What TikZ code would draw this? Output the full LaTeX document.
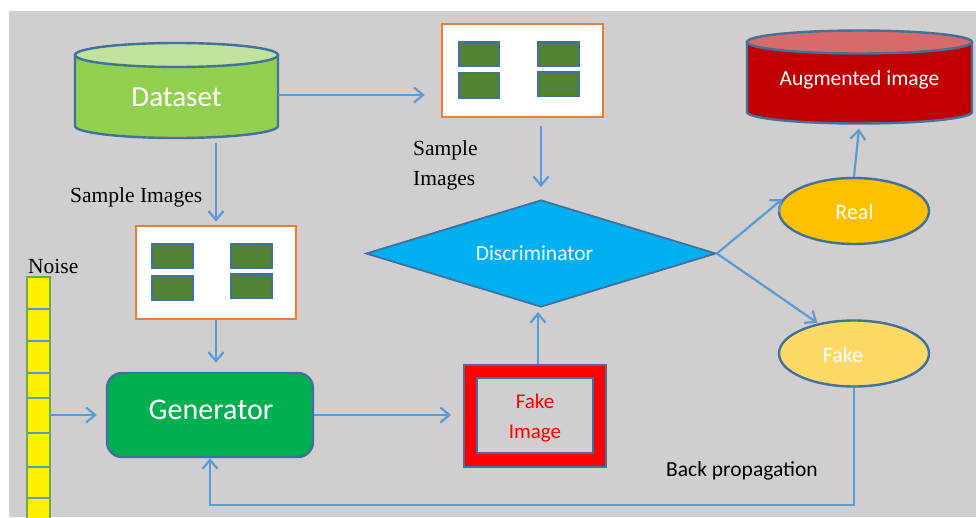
\documentclass[tikz,border=0pt]{standalone}
\usepackage{fontspec}
\setmainfont{Carlito}
\newfontfamily\timesf{Liberation Serif}
\usetikzlibrary{arrows.meta,shapes.geometric,calc}
\definecolor{bgc}{HTML}{D0CECE}
\definecolor{bordb}{HTML}{41719C}
\definecolor{arrb}{HTML}{5B9BD5}
\definecolor{dsg}{HTML}{92D050}
\definecolor{dstop}{HTML}{C1E29C}
\definecolor{orng}{HTML}{ED7D31}
\definecolor{imgg}{HTML}{548235}
\definecolor{discb}{HTML}{00B0F0}
\definecolor{geng}{HTML}{00B050}
\definecolor{realc}{HTML}{FFC000}
\definecolor{fakec}{HTML}{FFD966}
\definecolor{augr}{HTML}{C00000}
\definecolor{augtop}{HTML}{D76B6B}
\definecolor{noiseb}{HTML}{70AD47}
\tikzset{
  conn/.style={draw=arrb, line width=2.2pt, -{Straight Barb[length=9pt,width=15pt,line width=2.2pt]}},
  samplebox/.style={draw=orng, line width=2.6pt, fill=white, minimum width=161pt, minimum height=93pt, inner sep=0pt},
  thumb/.style={draw=bordb, line width=2.4pt, fill=imgg},
  serlabel/.style={font=\timesf\fontsize{21.5}{26}\selectfont, text=black, inner sep=0pt, align=left},
  calabel/.style={font=\fontsize{21.5}{26}\selectfont, text=black, inner sep=0pt},
  whitetxt/.style={text=white, inner sep=0pt},
}
\begin{document}
\begin{tikzpicture}[x=1pt,y=-1pt]
\useasboundingbox (0,0) rectangle (976,517);
\fill[white] (0,0) rectangle (976,517);
\fill[bgc] (9,11) rectangle (976,517);

% Dataset cylinder
\path[fill=dsg, draw=bordb, line width=2.4pt] (75,55) -- (75,126) arc[start angle=180,end angle=360,x radius=101.5pt,y radius=12pt] -- (278,55) -- cycle;
\path[fill=dstop, draw=bordb, line width=2.4pt] (176.5,55) ellipse[x radius=101.5pt, y radius=12pt];
\node[minimum width=203pt, minimum height=95pt, inner sep=0pt] (dataset) at (176.5,95) {};
\node[whitetxt, font=\fontsize{29}{33}\selectfont] (dstext) at (176.5,97) {Dataset};

% Augmented image cylinder
\path[fill=augr, draw=bordb, line width=2.4pt] (747,42) -- (747,112) arc[start angle=180,end angle=360,x radius=112.5pt,y radius=11.5pt] -- (972,42) -- cycle;
\path[fill=augtop, draw=bordb, line width=2.4pt] (859.5,42) ellipse[x radius=112.5pt, y radius=11.5pt];
\node[minimum width=225pt, minimum height=93pt, inner sep=0pt] (aug) at (859.5,77) {};
\node[whitetxt, font=\fontsize{21.5}{25}\selectfont] (augtext) at (859.5,80) {Augmented image};

% top sample box
\node[samplebox] (topbox) at (522.5,70.5) {};
\path[thumb] (459,42) rectangle (499,66);
\path[thumb] (459,73) rectangle (499,98);
\path[thumb] (538,42) rectangle (579,66);
\path[thumb] (538,72) rectangle (579,96);

% middle sample box
\node[samplebox, minimum width=160pt] (midbox) at (216,272.5) {};
\path[thumb] (152,244) rectangle (193,268);
\path[thumb] (152,276) rectangle (193,300);
\path[thumb] (231,244) rectangle (272,268);
\path[thumb] (231,274) rectangle (272,298);

% discriminator
\node[diamond, aspect=3.27, fill=discb, draw=bordb, line width=1.8pt, minimum width=350pt, minimum height=107pt, inner sep=0pt] (disc) at (541,253.5) {};
\node[whitetxt, font=\fontsize{21.5}{25}\selectfont] (disctext) at (534.5,253) {Discriminator};

% generator
\node[rectangle, rounded corners=15pt, fill=geng, draw=bordb, line width=2.4pt, minimum width=206pt, minimum height=84pt] (gen) at (210,415) {};
\node[whitetxt, font=\fontsize{30}{34}\selectfont] (gentext) at (211,410) {Generator};

% fake image
\node[fill=red, draw=bordb, line width=1.8pt, minimum width=142pt, minimum height=102pt, inner sep=0pt] (fakeimg) at (535,416) {};
\path[fill=bgc, draw=bordb, line width=1.8pt] (477,378) rectangle (593,453);
\node[text=red, font=\fontsize{21}{30}\selectfont, align=center, inner sep=0pt] (fitext) at (535,418) {Fake\\Image};

% real / fake ellipses
\node[ellipse, fill=realc, draw=bordb, line width=2.4pt, minimum width=150pt, minimum height=66pt, inner sep=0pt] (real) at (854,211) {};
\node[whitetxt, font=\fontsize{22}{26}\selectfont] (realtext) at (854.5,212) {Real};
\node[ellipse, fill=fakec, draw=bordb, line width=2.4pt, minimum width=150pt, minimum height=66pt, inner sep=0pt] (fake) at (854,353.5) {};
\node[whitetxt, font=\fontsize{22}{26}\selectfont] (faketext) at (843,355) {Fake};

% noise column
\path[fill=yellow, draw=noiseb, line width=1.8pt] (27,277) rectangle (50,520);
\foreach \yy in {309,341,373,398,433,467,498} {
  \draw[arrb, line width=1.5pt] (28,\yy) -- (49,\yy);
}
\node[minimum width=23pt, minimum height=240pt, inner sep=0pt] (noise) at (38.5,397) {};
\node[serlabel, anchor=south west] (noiselbl) at (28,274) {Noise};

% labels
\node[serlabel, anchor=west] (si1) at (70,197) {Sample Images};
\node[serlabel, anchor=base west, font=\timesf\fontsize{21.5}{30}\selectfont] (si2) at (413,185) {Sample\\Images};
\node[calabel, anchor=west] (bp) at (666,471) {Back propagation};

% connectors
\coordinate (fiup) at (538,364);
\coordinate (fiupend) at (538,307);
\draw[conn, shorten >=16pt] (dataset.east) -- (dataset.east -| topbox.west);
\draw[conn, shorten >=3pt] (midbox.north |- dataset.south) -- (midbox.north);
\draw[conn, shorten >=9pt] (midbox.south) -- (midbox.south |- gen.north);
\draw[conn, shorten >=9pt] (noise.east |- gen.west) -- (gen.west);
\draw[conn, shorten >=12pt] (gen.east) -- (gen.east -| fakeimg.west);
\draw[conn, shorten >=5pt] (fiup) -- (fiupend);
\draw[conn, shorten <=8pt, shorten >=12pt] (disc.north |- topbox.south) -- (disc.north);
\draw[conn, shorten >=1pt] (disc.east) -- (real.170);
\draw[conn, shorten >=1pt] (disc.east) -- (fake.140);
\draw[conn, shorten >=5pt] (real.north) -- (aug.south);
\coordinate (bpcorner) at (854,505);
\draw[conn] (fake.south) -- (bpcorner) -- (bpcorner -| gen.south) -- (gen.south);
\end{tikzpicture}
\end{document}
